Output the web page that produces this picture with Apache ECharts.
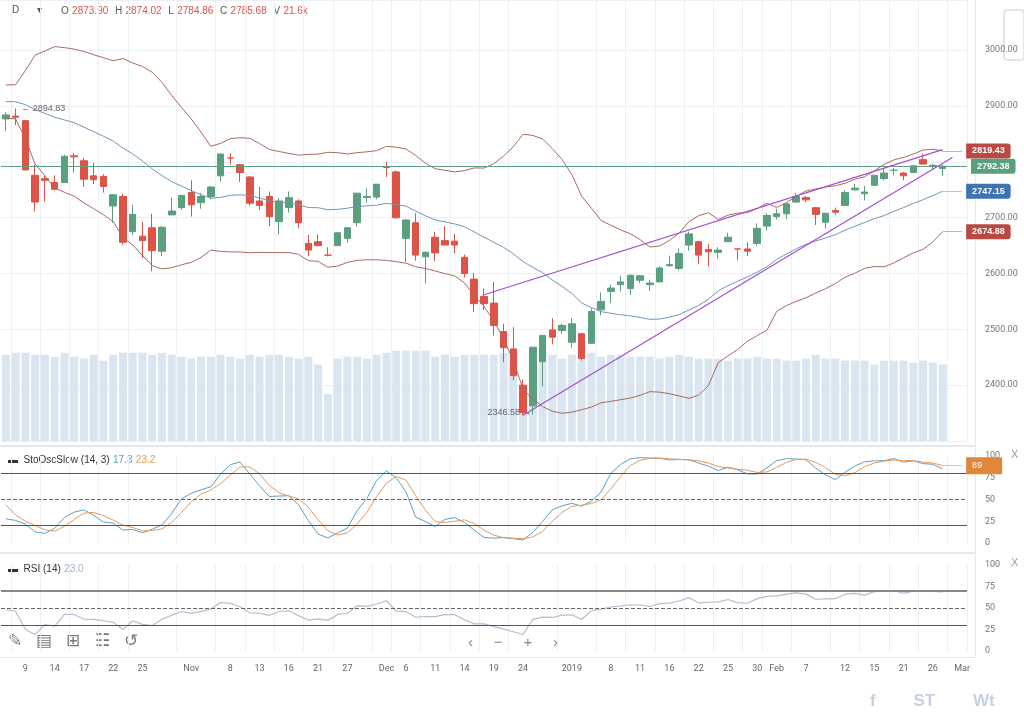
<!DOCTYPE html><html><head><meta charset="utf-8">
<script src="https://cdn.jsdelivr.net/npm/echarts@6/dist/echarts.min.js"></script>
<style>html,body{margin:0;background:#fff}#c{width:1024px;height:718px}</style></head><body><div id="c"></div>
<script>
const dates=['10-08','10-09','10-10','10-11','10-12','10-15','10-16','10-17','10-18','10-19','10-22','10-23','10-24','10-25','10-26','10-29','10-30','10-31','11-01','11-02','11-05','11-06','11-07','11-08','11-09','11-12','11-13','11-14','11-15','11-16','11-19','11-20','11-21','11-23','11-26','11-27','11-28','11-29','11-30','12-03','12-04','12-06','12-07','12-10','12-11','12-12','12-13','12-14','12-17','12-18','12-19','12-20','12-21','12-24','12-26','12-27','12-28','12-31','01-02','01-03','01-04','01-07','01-08','01-09','01-10','01-11','01-14','01-15','01-16','01-17','01-18','01-22','01-23','01-24','01-25','01-28','01-29','01-30','01-31','02-01','02-04','02-05','02-06','02-07','02-08','02-11','02-12','02-13','02-14','02-15','02-19','02-20','02-21','02-22','02-25','02-26','02-27','02-28','03-01'];
// [open, close, low, high]
const ohlc=[[2877,2884,2855,2889],[2882,2880,2866,2894.83],[2873.9,2785.68,2784.86,2874.02],[2776,2728,2711,2795],[2770,2767,2729,2776],[2763,2751,2749,2776],[2763,2810,2763,2813],[2811,2809,2781,2816],[2802,2769,2755,2807],[2775,2768,2760,2798],[2774,2756,2745,2778],[2721,2741,2691,2742],[2738,2656,2652,2743],[2675,2706,2669,2723],[2667,2659,2628,2693],[2682,2641,2604,2707],[2640,2683,2631,2685],[2705,2712,2705,2736],[2718,2740,2714,2741],[2745,2723,2702,2767],[2727,2738,2716,2744],[2738,2755,2733,2756],[2775,2814,2765,2815],[2807,2807,2795,2815],[2795,2781,2764,2796],[2773,2726,2722,2775],[2730,2722,2714,2755],[2738,2702,2685,2747],[2693,2730,2670,2735],[2718,2736,2709,2747],[2730,2691,2681,2733],[2654,2642,2631,2669],[2657,2650,2649,2670],[2633,2633,2631,2647],[2650,2673,2650,2674],[2663,2682,2655,2683],[2691,2744,2684,2744],[2736,2738,2727,2753],[2737,2760,2733,2760],[2791,2790,2773,2800],[2782,2700,2698,2785],[2663,2696,2621,2697],[2691,2633,2623,2708],[2630,2638,2583,2640],[2665,2637,2622,2675],[2659,2651,2651,2685],[2658,2651,2636,2671],[2629,2600,2593,2634],[2590,2546,2531,2601],[2559,2546,2535,2573],[2547,2507,2489,2585],[2496,2467,2441,2510],[2465,2417,2409,2504],[2400,2351,2346.58,2410],[2363,2468,2347,2468],[2442,2489,2398,2489],[2499,2486,2473,2520],[2498,2507,2492,2510],[2477,2510,2467,2520],[2492,2448,2444,2493],[2475,2532,2474,2538],[2535,2550,2525,2566],[2568,2574,2547,2580],[2580,2585,2568,2596],[2573,2597,2562,2598],[2588,2596,2583,2597],[2580,2583,2569,2589],[2585,2610,2585,2613],[2614,2616,2612,2632],[2609,2636,2606,2645],[2651,2671,2641,2675],[2657,2633,2617,2657],[2643,2639,2612,2653],[2638,2642,2627,2647],[2657,2665,2657,2673],[2644,2644,2624,2645],[2644,2640,2631,2656],[2654,2681,2650,2690],[2685,2704,2677,2708],[2702,2707,2697,2716],[2707,2725,2697,2725],[2728,2738,2727,2744],[2736,2732,2728,2739],[2718,2706,2687,2719],[2692,2708,2681,2708],[2713,2710,2705,2718],[2722,2745,2722,2749],[2750,2753,2748,2761],[2743,2746,2731,2757],[2758,2776,2757,2776],[2770,2780,2767,2787],[2785,2785,2776,2789],[2780,2775,2767,2782],[2781,2793,2781,2793],[2804,2796,2796,2814],[2792,2794,2787,2796],[2788,2792.38,2775,2795]];
const priorCloses=[2877.13,2887.89,2888.92,2904.18,2904.98,2888.80,2904.31,2907.95,2930.75,2929.67,2919.37,2915.56,2905.97,2914.00,2913.98,2924.59,2923.43,2925.51,2901.61,2885.57];
const volume=[4.4,4.5,4.5,4.4,4.4,4.3,4.5,4.3,4.2,4.4,4.1,4.4,4.5,4.5,4.5,4.4,4.5,4.4,4.3,4.2,4.3,4.3,4.4,4.3,4.2,4.4,4.3,4.4,4.4,4.3,4.2,4.3,3.9,2.4,4.2,4.3,4.3,4.2,4.4,4.5,4.6,4.6,4.6,4.6,4.3,4.4,4.3,4.4,4.4,4.4,4.4,4.5,4.6,2.0,4.5,4.6,4.4,4.2,4.4,4.5,4.5,4.3,4.4,4.4,4.3,4.3,4.3,4.2,4.3,4.4,4.3,4.2,4.2,4.2,4.1,4.2,4.2,4.3,4.2,4.2,4.1,4.1,4.2,4.4,4.2,4.2,4.1,4.1,4.1,3.9,4.1,4.1,4.1,4.0,4.1,4.0,3.9];
const priceTicks=[2400,2500,2600,2700,2900,3000];
const tagTexts=['2819.43','2792.38','2747.15','2674.88'];
const tickIdx=[2,5,8,11,14,19,23,26,29,32,35,39,41,44,47,50,53,58,62,65,68,71,74,77,79,82,86,89,92,95,98];
const tickText=['9','14','17','22','25','Nov','8','13','16','21','27','Dec','6','11','14','19','24','2019','8','11','16','22','25','30','Feb','7','12','15','21','26','Mar'];

const closes=ohlc.map(d=>d[1]);
const allC=priorCloses.concat(closes), P=priorCloses.length;
const allH=priorCloses.map(c=>c+8).concat(ohlc.map(d=>d[3]));
const allL=priorCloses.map(c=>c-8).concat(ohlc.map(d=>d[2]));
const sma=[],up=[],lo=[];
for(let i=0;i<closes.length;i++){const w=allC.slice(P+i-19,P+i+1);const m=w.reduce((a,b)=>a+b,0)/w.length;const s=Math.sqrt(w.reduce((a,b)=>a+(b-m)*(b-m),0)/w.length);sma.push(+m.toFixed(2));up.push(+(m+2*s).toFixed(2));lo.push(+(m-2*s).toFixed(2));}
const rawK=[];for(let j=13;j<allC.length;j++){let hh=-1e9,ll=1e9;for(let k=j-13;k<=j;k++){hh=Math.max(hh,allH[k]);ll=Math.min(ll,allL[k]);}rawK.push((allC[j]-ll)/(hh-ll)*100);}
const avg=(a,i,n)=>{let s=0;for(let k=i-n+1;k<=i;k++)s+=a[k];return s/n;};
const slowK=rawK.map((v,i)=>i>=2?avg(rawK,i,3):v),slowD=slowK.map((v,i)=>i>=2?avg(slowK,i,3):v);
const off=P-13,K=[],D=[];for(let i=0;i<closes.length;i++){K.push(+slowK[i+off].toFixed(1));D.push(+slowD[i+off].toFixed(1));}
let ag=0,al=0;for(let j=1;j<=14;j++){const d=allC[j]-allC[j-1];if(d>0)ag+=d;else al-=d;}ag/=14;al/=14;
const rsiAll=[];for(let j=15;j<allC.length;j++){const d=allC[j]-allC[j-1];ag=(ag*13+Math.max(d,0))/14;al=(al*13+Math.max(-d,0))/14;rsiAll.push(100-100/(1+ag/al));}
const RSI=rsiAll.slice(P-15).map(v=>+v.toFixed(1));
const last=closes.length-1;

const tickSet=new Set(tickIdx);
const lbl={};tickIdx.forEach((t,i)=>lbl[t]=tickText[i]);
const L=1,R=57;
function xa(gi,show){return {type:'category',gridIndex:gi,data:dates,boundaryGap:true,axisLine:{show:false},axisTick:{show:false},
 splitLine:{show:true,interval:(i)=>tickSet.has(i+1),lineStyle:{color:'#eceff3'}},
 axisLabel:{show:show,interval:(i)=>tickSet.has(i),formatter:(v,i)=>lbl[i]||'',color:'#666',fontSize:9,margin:13,fontFamily:'Roboto'}};}
const yl={color:'#777',fontSize:9,fontFamily:'Roboto',margin:18,align:'left'};
const tagLabel=(t,c)=>({show:true,position:'end',distance:4,formatter:t,backgroundColor:c,color:'#fff',padding:[3,6],borderRadius:[0,3,3,0],fontSize:9,fontWeight:'bold'});
function tag(v,t,c,lc){return [{coord:[dates[last],v],lineStyle:{color:lc,width:1,type:'solid'},label:tagLabel(t,c)},{coord:[dates[98],v]}];}
const opt={animation:false,
grid:[{left:L,right:R,top:0,height:441},{left:L,right:R,top:456,height:87},{left:L,right:R,top:565,height:86}],
xAxis:[xa(0,false),xa(1,false),xa(2,true)],
yAxis:[{gridIndex:0,position:'right',min:2300,max:3090,interval:100,axisLine:{show:false},axisTick:{show:false},splitLine:{lineStyle:{color:'#eceff3'}},axisLabel:Object.assign({formatter:v=>priceTicks.includes(v)?v.toFixed(2):''},yl)},
 {gridIndex:0,min:0,max:22.5,show:false},
 {gridIndex:1,position:'right',min:0,max:100,interval:25,axisLine:{show:false},axisTick:{show:false},splitLine:{show:false},axisLabel:yl},
 {gridIndex:2,position:'right',min:0,max:100,interval:25,axisLine:{show:false},axisTick:{show:false},splitLine:{show:false},axisLabel:yl}],
series:[
 {type:'bar',xAxisIndex:0,yAxisIndex:1,data:volume,barWidth:8,itemStyle:{color:'#d9e5f0'},silent:true},
 {type:'line',data:up,symbol:'none',lineStyle:{color:'#a86a5e',width:1},markLine:{symbol:'none',silent:true,data:[tag(up[last],tagTexts[0],'#b94a43','#d8b0aa')]}},
 {type:'line',data:lo,symbol:'none',lineStyle:{color:'#a86a5e',width:1},markLine:{symbol:'none',silent:true,data:[tag(lo[last],tagTexts[3],'#b94a43','#d8b0aa')]}},
 {type:'line',data:sma,symbol:'none',lineStyle:{color:'#6f95b8',width:1},markLine:{symbol:'none',silent:true,data:[tag(sma[last],tagTexts[2],'#3e74b3','#b3c6dc')]}},
 {type:'candlestick',data:ohlc,barWidth:7,itemStyle:{color:'#5a9f7e',color0:'#dd5347',borderColor:'#5a9f7e',borderColor0:'#dd5347'},
  markLine:{symbol:'none',silent:true,data:[
   {yAxis:closes[last],lineStyle:{color:'#5d9e83',type:'solid',width:1},label:tagLabel(tagTexts[1],'#5a9f7e')},
   [{coord:[dates[49],2562],lineStyle:{color:'#a24fd0',type:'solid',width:1.2},label:{show:false}},{coord:[dates[96],2822]}],
   [{coord:[dates[53],2346],lineStyle:{color:'#a24fd0',type:'solid',width:1.2},label:{show:false}},{coord:[dates[97],2808]}]]},
  markPoint:{symbol:'rect',symbolSize:1,silent:true,data:[
   {coord:[dates[1],2894.83],label:{formatter:'← 2894.83',position:'right',offset:[0,0],color:'#666',fontSize:9}},
   {coord:[dates[53],2346.58],label:{formatter:'2346.58 →',position:'left',offset:[14,-2],color:'#666',fontSize:9}}]}},
 {type:'line',xAxisIndex:1,yAxisIndex:2,data:K,symbol:'none',lineStyle:{color:'#5b9fc1',width:1},
  markLine:{symbol:'none',silent:true,label:{show:false},data:[{yAxis:80,lineStyle:{color:'#555',type:'solid',width:1}},{yAxis:50,lineStyle:{color:'#666',type:'dashed',width:1}},{yAxis:20,lineStyle:{color:'#555',type:'solid',width:1}}]}},
 {type:'line',xAxisIndex:1,yAxisIndex:2,data:D,symbol:'none',lineStyle:{color:'#e49a5c',width:1},
  markLine:{symbol:'none',silent:true,data:[[{coord:[dates[last],D[last]],lineStyle:{color:'#e8c3a0',type:'solid',width:1},label:{show:true,position:'end',distance:4,formatter:'89',backgroundColor:'#e0883a',color:'#fff',padding:[4,20,4,6],fontSize:9}},{coord:[dates[98],D[last]]}]]}},
 {type:'line',xAxisIndex:2,yAxisIndex:3,data:RSI,symbol:'none',lineStyle:{color:'#b2bfd0',width:1.2},
  markLine:{symbol:'none',silent:true,label:{show:false},data:[{yAxis:70,lineStyle:{color:'#888',type:'solid',width:2}},{yAxis:50,lineStyle:{color:'#666',type:'dashed',width:1}},{yAxis:30,lineStyle:{color:'#555',type:'solid',width:1}}]}}
],
graphic:[
 {type:'rect',shape:{x:0,y:445,width:975,height:2},style:{fill:'#e4e8ee'}},
 {type:'rect',shape:{x:0,y:552,width:975,height:2},style:{fill:'#e4e8ee'}},
 {type:'rect',shape:{x:0,y:657,width:975,height:1},style:{fill:'#e4e8ee'}},
 {type:'rect',shape:{x:975,y:0,width:1,height:658},style:{fill:'#e4e8ee'}},
 {type:'text',left:12,top:5,style:{text:'D',fill:'#555',fontSize:10}},
 {type:'text',left:37,top:5,style:{text:'▾',fill:'#555',fontSize:10}},
 {type:'text',left:61,top:5,style:{rich:{g:{fill:'#555',fontSize:10},r:{fill:'#d9534f',fontSize:10}},text:'{g|O} {r|2873.90}  {g|H} {r|2874.02}  {g|L} {r|2784.86}  {g|C} {r|2785.68}  {g|V} {r|21.6k}'}},
 {type:'text',left:8,top:454,style:{rich:{a:{fill:'#333',fontSize:10},b:{fill:'#5b9fc1',fontSize:10},c:{fill:'#e49a5c',fontSize:10}},text:'{a|▬  StoOscSlow (14, 3)} {b|17.3} {c|23.2}'}},
 {type:'text',left:8,top:563,style:{rich:{a:{fill:'#333',fontSize:10},b:{fill:'#9fb2c8',fontSize:10}},text:'{a|▬  RSI (14)} {b|23.0}'}},
 {type:'text',left:1011,top:449,style:{text:'X',fill:'#999',fontSize:11}},
 {type:'text',left:1011,top:557,style:{text:'X',fill:'#999',fontSize:11}},
 {type:'rect',shape:{x:1004,y:10,width:20,height:50,r:3},style:{fill:'#fff',stroke:'#ccc'}},
 {type:'text',left:8,top:633,style:{text:'✎   ▤   ⊞   ☷   ↺',fill:'#777',fontSize:17}},
 {type:'text',left:468,top:635,style:{text:'‹     −     +     ›',fill:'#888',fontSize:15}},
 {type:'text',left:870,top:693,style:{text:'f        ST        Wt',fill:'#c5d0e0',fontSize:17,fontWeight:'bold'}}
]};
echarts.init(document.getElementById('c')).setOption(opt);
</script></body></html>
